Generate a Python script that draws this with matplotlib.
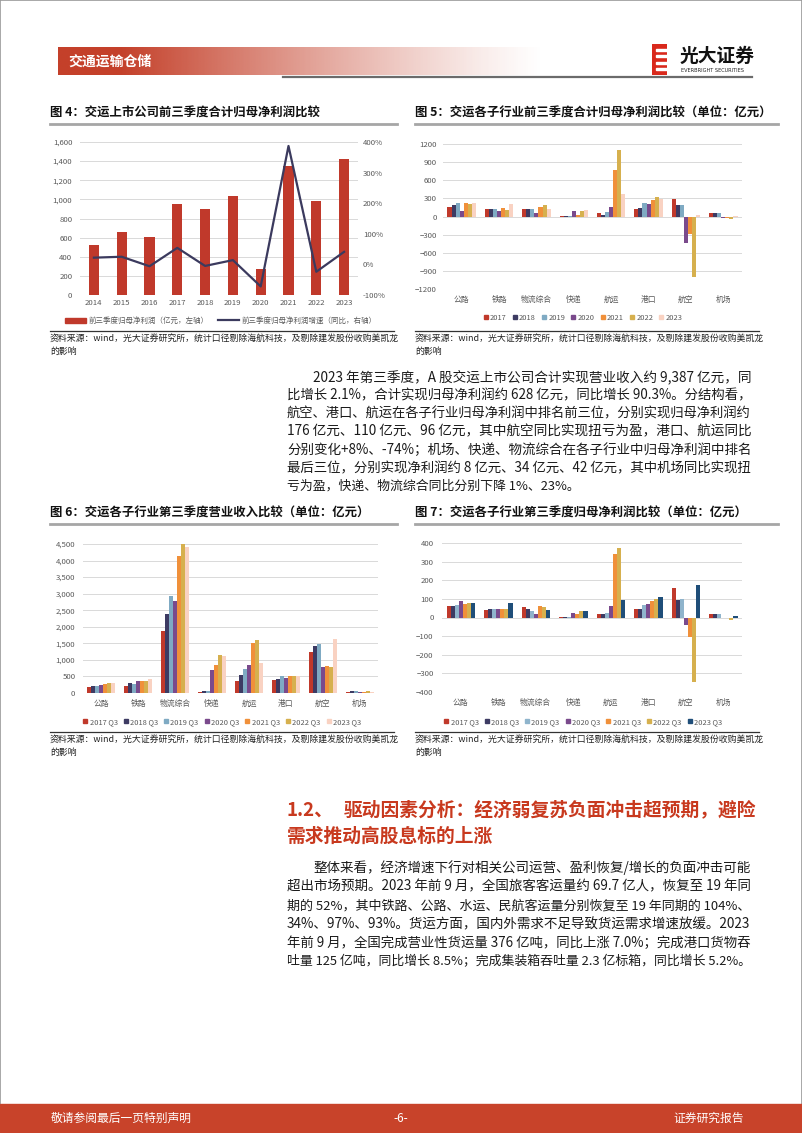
import matplotlib
matplotlib.use('Agg')
import matplotlib.pyplot as plt
import numpy as np
from matplotlib.patches import Rectangle, Patch
from matplotlib.lines import Line2D

plt.rcParams['font.family'] = ['Noto Sans CJK SC', 'DejaVu Sans']

# ---------------- data ----------------
years4 = ['2014', '2015', '2016', '2017', '2018', '2019', '2020', '2021', '2022', '2023']
profit4 = [525, 660, 608, 952, 900, 1040, 275, 1350, 985, 1425]
growth4 = [22, 25, -6, 54, -5, 14, -72, 387, -24, 41]

sectors = ['公路', '铁路', '物流综合', '快递', '航运', '港口', '航空', '机场']

years5 = ['2017', '2018', '2019', '2020', '2021', '2022', '2023']
p5_2017 = [165, 132, 127, 16, 66, 127, 292, 50]
p5_2018 = [198, 132, 132, 16, 22, 143, 187, 50]
p5_2019 = [225, 127, 116, 11, 77, 220, 187, 50]
p5_2020 = [94, 99, 55, 83, 165, 204, -440, -22]
p5_2021 = [220, 138, 165, 33, 776, 281, -286, -22]
p5_2022 = [204, 105, 198, 83, 1106, 319, -1007, -39]
p5_2023 = [225, 215, 127, 105, 374, 292, 33, 11]
series5 = [p5_2017, p5_2018, p5_2019, p5_2020, p5_2021, p5_2022, p5_2023]

quarters = ['2017 Q3', '2018 Q3', '2019 Q3', '2020 Q3', '2021 Q3', '2022 Q3', '2023 Q3']
r6_2017 = [190, 220, 1875, 40, 353, 383, 1250, 45]
r6_2018 = [205, 290, 2380, 50, 534, 423, 1431, 55]
r6_2019 = [215, 285, 2923, 60, 736, 504, 1492, 50]
r6_2020 = [255, 370, 2772, 705, 837, 444, 776, 35]
r6_2021 = [275, 365, 4143, 837, 1522, 504, 827, 35]
r6_2022 = [305, 370, 4496, 1139, 1593, 504, 796, 55]
r6_2023 = [300, 410, 4395, 1109, 917, 504, 1643, 45]
series6 = [r6_2017, r6_2018, r6_2019, r6_2020, r6_2021, r6_2022, r6_2023]

p7_2017 = [64, 41, 57, 4, 21, 43, 159, 18]
p7_2018 = [61, 43, 47, 4, 18, 48, 95, 18]
p7_2019 = [66, 43, 36, 2, 25, 68, 102, 18]
p7_2020 = [88, 43, 20, 25, 61, 75, -38, -4]
p7_2021 = [72, 43, 63, 18, 342, 89, -106, -5]
p7_2022 = [77, 47, 55, 34, 374, 102, -345, -13]
p7_2023 = [79, 79, 41, 34, 95, 109, 176, 8]
series7 = [p7_2017, p7_2018, p7_2019, p7_2020, p7_2021, p7_2022, p7_2023]

colors5 = ['#C0392B', '#3D3B63', '#7FAAC3', '#7A4A8C', '#F0903A', '#D6B04E', '#F9D2C2']
colors7 = ['#C0392B', '#3D3B63', '#8FB4CC', '#7A4A8C', '#F0903A', '#D6B04E', '#1F4E79']
RED = '#C0392B'
NAVY = '#3B3A5E'
TICK = '#595959'
GRID = '#D9D9D9'

W, H = 802, 1133
fig = plt.figure(figsize=(W / 100, H / 100), dpi=100)


def fx(x):
    return x / W


def fy(y):
    return 1 - y / H


def add_ax(x0, y0, x1, y1):
    return fig.add_axes([x0 / W, 1 - y1 / H, (x1 - x0) / W, (y1 - y0) / H])


def hline(x0, x1, y, color, lw):
    fig.add_artist(Line2D([fx(x0), fx(x1)], [fy(y), fy(y)], color=color, lw=lw,
                          transform=fig.transFigure))


# ---------------- page frame / header / footer ----------------
fig.add_artist(Rectangle((0, 0), 1, 1, transform=fig.transFigure, fill=False,
                         edgecolor='#9a9a9a', lw=1.2))

hax = add_ax(58, 47, 545, 75)
grad = np.ones((1, 400, 4))
t = np.linspace(0, 1, 400)
alpha = np.clip(1.15 - t * 1.15, 0, 1) ** 1.2
base = np.array([196, 64, 42]) / 255
grad[0, :, :3] = base
grad[0, :, 3] = alpha
hax.imshow(grad, aspect='auto', extent=[0, 1, 0, 1])
hax.set_axis_off()
fig.text(fx(68), fy(62), '交通运输仓储', color='white', fontsize=10, weight='bold',
         va='center', ha='left')
hline(283, 752, 76.5, '#6b6b6b', 1.6)

# logo
lax = add_ax(652, 44, 667, 75)
lax.set_xlim(0, 1)
lax.set_ylim(0, 1)
lax.add_patch(Rectangle((0, 0), 1, 1, color='#D9291C'))
for yy in [0.2, 0.4, 0.6, 0.8]:
    lax.add_patch(Rectangle((0.25, yy - 0.03), 0.75, 0.06, color='white'))
lax.set_axis_off()
fig.text(fx(680), fy(56), '光大证券', fontsize=13.5, weight='bold', va='center', ha='left',
         color='#111111')
fig.text(fx(681), fy(70), 'EVERBRIGHT SECURITIES', fontsize=3.6, va='center', ha='left',
         color='#222222', family=['DejaVu Sans'])

fig.add_artist(Rectangle((0, fy(1132)), 1, (1132 - 1104) / H, transform=fig.transFigure,
                         color='#C8432A'))
fig.text(fx(51), fy(1118), '敬请参阅最后一页特别声明', color='white', fontsize=8.5,
         va='center', ha='left')
fig.text(fx(401), fy(1118), '-6-', color='white', fontsize=8.5, va='center', ha='center')
fig.text(fx(744), fy(1118), '证券研究报告', color='white', fontsize=8.5, va='center',
         ha='right')

# ---------------- titles & sources ----------------
def chart_title(x0, x1, y, s):
    fig.text(fx(x0), fy(y), s, fontsize=8.9, weight='bold', va='center', ha='left',
             color='#111111')
    hline(x0, x1, y + 11, '#A6A6A6', 2.0)


def source(x0, x1, y):
    hline(x0, x1, y, '#333333', 0.9)
    fig.text(fx(x0), fy(y + 8), '资料来源：wind，光大证券研究所，统计口径剔除海航科技，及剔除建发股份收购美凯龙',
             fontsize=6.4, va='center', ha='left', color='#222222')
    fig.text(fx(x0), fy(y + 20), '的影响', fontsize=6.4, va='center', ha='left',
             color='#222222')


chart_title(50, 397, 113, '图 4：交运上市公司前三季度合计归母净利润比较')
chart_title(415, 778, 113, '图 5：交运各子行业前三季度合计归母净利润比较（单位：亿元）')
chart_title(50, 397, 513, '图 6：交运各子行业第三季度营业收入比较（单位：亿元）')
chart_title(415, 778, 513, '图 7：交运各子行业第三季度归母净利润比较（单位：亿元）')
source(50, 394, 331)
source(415, 759, 331)
source(50, 394, 732)
source(415, 759, 732)


def style_ax(ax, ypad, xpad):
    for s in ax.spines.values():
        s.set_visible(False)
    ax.tick_params(axis='both', length=0, labelsize=5.6, labelcolor=TICK)
    ax.tick_params(axis='y', pad=ypad)
    ax.tick_params(axis='x', pad=xpad)
    ax.grid(axis='y', color=GRID, lw=0.7)
    ax.set_axisbelow(True)


# ---------------- chart 4 ----------------
ax4 = add_ax(80, 142, 358, 295)
x4 = np.arange(len(years4))
ax4.bar(x4, profit4, width=0.36, color=RED, zorder=2)
ax4.set_xlim(-0.5, len(years4) - 0.5)
ax4.set_ylim(0, 1600)
ax4.set_yticks(np.arange(0, 1601, 200))
ax4.set_yticklabels([f'{v:,}' for v in range(0, 1601, 200)])
ax4.set_xticks(x4)
ax4.set_xticklabels(years4)
style_ax(ax4, 5.5, 3)
ax4b = ax4.twinx()
ax4b.plot(x4, growth4, color=NAVY, lw=1.6, zorder=3)
ax4b.set_ylim(-100, 400)
ax4b.set_yticks(np.arange(-100, 401, 100))
ax4b.set_yticklabels([f'{v}%' for v in range(-100, 401, 100)])
for s in ax4b.spines.values():
    s.set_visible(False)
ax4b.tick_params(axis='y', length=0, labelsize=5.6, labelcolor=TICK, pad=3.5)
fig.legend(handles=[Patch(color=RED), Line2D([], [], color=NAVY, lw=1.6)],
           labels=['前三季度归母净利润（亿元，左轴）', '前三季度归母净利润增速（同比，右轴）'],
           loc='center', bbox_to_anchor=(fx(221), fy(321)), ncol=2, frameon=False,
           fontsize=5.4, handlelength=2.8, handleheight=0.6, columnspacing=1.2,
           handletextpad=0.4, labelcolor=TICK)


# ---------------- grouped bar helper ----------------
def grouped(ax, series, colors, labels, legend_xy):
    n = len(series)
    w = 0.76 / n
    x = np.arange(len(sectors))
    for i, (vals, c) in enumerate(zip(series, colors)):
        ax.bar(x + (i - (n - 1) / 2) * w, vals, width=w, color=c, zorder=2, label=labels[i])
    ax.set_xlim(-0.5, len(sectors) - 0.5)
    ax.set_xticks(x)
    ax.set_xticklabels(sectors)
    handles = [Line2D([], [], marker='s', ls='none', color=c, markersize=3.4) for c in colors]
    fig.legend(handles=handles, labels=labels, loc='center',
               bbox_to_anchor=(fx(legend_xy[0]), fy(legend_xy[1])), ncol=n, frameon=False,
               fontsize=5.4, handlelength=0.6, handletextpad=0.25, columnspacing=0.8,
               labelcolor=TICK)


# ---------------- chart 5 ----------------
ax5 = add_ax(443, 144, 742, 289)
grouped(ax5, series5, colors5, years5, (583, 318))
ax5.set_ylim(-1200, 1200)
ax5.set_yticks(np.arange(-1200, 1201, 300))
style_ax(ax5, 4.5, 5)

# ---------------- chart 6 ----------------
ax6 = add_ax(83, 544, 378, 693)
grouped(ax6, series6, colors5, quarters, (222, 722))
ax6.set_ylim(0, 4500)
ax6.set_yticks(np.arange(0, 4501, 500))
ax6.set_yticklabels([f'{v:,}' for v in range(0, 4501, 500)])
style_ax(ax6, 5.5, 5)

# ---------------- chart 7 ----------------
ax7 = add_ax(442, 543, 742, 692)
grouped(ax7, series7, colors7, quarters, (583, 722))
ax7.set_ylim(-400, 400)
ax7.set_yticks(np.arange(-400, 401, 100))
style_ax(ax7, 6, 5)

# ---------------- body text ----------------
para1 = [
    '2023 年第三季度，A 股交运上市公司合计实现营业收入约 9,387 亿元，同',
    '比增长 2.1%，合计实现归母净利润约 628 亿元，同比增长 90.3%。分结构看，',
    '航空、港口、航运在各子行业归母净利润中排名前三位，分别实现归母净利润约',
    '176 亿元、110 亿元、96 亿元，其中航空同比实现扭亏为盈，港口、航运同比',
    '分别变化+8%、-74%；机场、快递、物流综合在各子行业中归母净利润中排名',
    '最后三位，分别实现净利润约 8 亿元、34 亿元、42 亿元，其中机场同比实现扭',
    '亏为盈，快递、物流综合同比分别下降 1%、23%。',
]
para2 = [
    '整体来看，经济增速下行对相关公司运营、盈利恢复/增长的负面冲击可能',
    '超出市场预期。2023 年前 9 月，全国旅客客运量约 69.7 亿人，恢复至 19 年同',
    '期的 52%，其中铁路、公路、水运、民航客运量分别恢复至 19 年同期的 104%、',
    '34%、97%、93%。货运方面，国内外需求不足导致货运需求增速放缓。2023',
    '年前 9 月，全国完成营业性货运量 376 亿吨，同比上涨 7.0%；完成港口货物吞',
    '吐量 125 亿吨，同比增长 8.5%；完成集装箱吞吐量 2.3 亿标箱，同比增长 5.2%。',
]
BODY = '#1a1a1a'
RIGHT = 751


def paragraph(lines, y0, dy, justify_last=False):
    texts = []
    for i, s in enumerate(lines):
        x = 313 if i == 0 else 287
        t = fig.text(fx(x), fy(y0 + i * dy), s, fontsize=9.3, va='center', ha='left',
                     color=BODY)
        texts.append((t, x, i == len(lines) - 1 and not justify_last))
    return texts


body = paragraph(para1, 377, 18.2) + paragraph(para2, 868, 18.8, justify_last=True)

fig.text(fx(287), fy(810), '1.2、', fontsize=13.5, weight='bold', color='#C8391E',
         va='center', ha='left')
fig.text(fx(344), fy(810), '驱动因素分析：经济弱复苏负面冲击超预期，避险', fontsize=13.5,
         weight='bold', color='#C8391E', va='center', ha='left')
fig.text(fx(287), fy(836), '需求推动高股息标的上涨', fontsize=13.5, weight='bold',
         color='#C8391E', va='center', ha='left')

# mild per-line fitting to emulate justified text
fig.canvas.draw()
r = fig.canvas.get_renderer()
for t, x, last in body:
    if last:
        continue
    wpx = t.get_window_extent(r).width
    target = RIGHT - x
    scale = np.clip(target / wpx, 0.94, 1.06)
    t.set_fontsize(9.3 * scale)

fig.savefig('out.png', dpi=100)
